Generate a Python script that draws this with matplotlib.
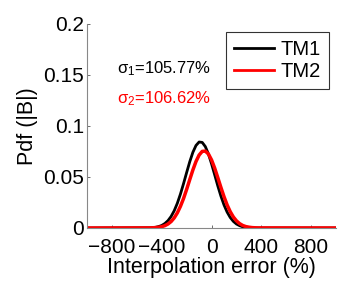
import numpy as np
import matplotlib
matplotlib.use('Agg')
import matplotlib.pyplot as plt

plt.rcParams['font.family'] = ['Liberation Sans', 'DejaVu Sans']
plt.rcParams['mathtext.fontset'] = 'custom'
plt.rcParams['mathtext.rm'] = 'Liberation Sans'
plt.rcParams['mathtext.it'] = 'Liberation Sans'

# x grid (interpolation error, %)
err = [-1000, -500, -475, -450, -425, -400, -375, -350, -325, -300, -275, -250,
       -225, -200, -175, -150, -125, -100, -75, -50, -25, 0, 25, 50, 75, 100,
       125, 150, 175, 200, 225, 250, 275, 300, 325, 350, 375, 1000]

pdf_tm1 = [0, 0.0002, 0.0004, 0.0007, 0.0014, 0.0025, 0.0044, 0.0072, 0.0113,
           0.0169, 0.0242, 0.0332, 0.0435, 0.0544, 0.0650, 0.0742, 0.0809,
           0.0843, 0.0839, 0.0798, 0.0725, 0.0629, 0.0522, 0.0413, 0.0313,
           0.0226, 0.0156, 0.0103, 0.0065, 0.0039, 0.0023, 0.0012, 0.0007,
           0.0003, 0.0001, 0, 0, 0]

pdf_tm2 = [0, 0.0001, 0.0002, 0.0004, 0.0007, 0.0013, 0.0023, 0.0039, 0.0063,
           0.0099, 0.0148, 0.0212, 0.0289, 0.0379, 0.0475, 0.0569, 0.0652,
           0.0715, 0.0751, 0.0754, 0.0725, 0.0667, 0.0587, 0.0494, 0.0398,
           0.0307, 0.0226, 0.0160, 0.0108, 0.0070, 0.0043, 0.0025, 0.0014,
           0.0008, 0.0004, 0.0002, 0.0001, 0]

sigma_labels = ['σ$_1$=105.77%', 'σ$_2$=106.62%']
xticks = [-800, -400, 0, 400, 800]
yticks = [0, 0.05, 0.1, 0.15, 0.2]
ytick_labels = ['0', '0.05', '0.1', '0.15', '0.2']

fig = plt.figure(figsize=(3.44, 2.82), dpi=100)
ax = fig.add_axes([0.253, 0.1915, 0.724, 0.7235])

ax.plot(err, pdf_tm1, color='black', lw=2.0, label='TM1')
ax.plot(err, pdf_tm2, color='red', lw=2.5, label='TM2')

ax.set_xlim(-1000, 1000)
ax.set_ylim(0, 0.2)
ax.set_xticks(xticks)
ax.set_yticks(yticks)
ax.set_yticklabels(ytick_labels)
ax.tick_params(direction='in', length=2.5, width=0.6, color='#555555',
               labelsize=15)
ax.tick_params(axis='y', pad=2)
ax.tick_params(axis='x', pad=7)

for side in ['top', 'right']:
    ax.spines[side].set_visible(False)
for side in ['left', 'bottom']:
    ax.spines[side].set_color('#888888')
    ax.spines[side].set_linewidth(0.8)

ax.set_xlabel('Interpolation error (%)', fontsize=15.5, labelpad=0)
ax.set_ylabel('Pdf (|B|)', fontsize=15.5, labelpad=4)

ax.text(-760, 0.156, sigma_labels[0], color='black', fontsize=12, va='center')
ax.text(-760, 0.1265, sigma_labels[1], color='red', fontsize=12, va='center')

leg = ax.legend(loc='upper left', bbox_to_anchor=(0.657, 0.888),
                bbox_transform=fig.transFigure, fontsize=14.5, frameon=True,
                fancybox=False, handlelength=2.0, handletextpad=0.3,
                borderpad=0.4, labelspacing=0.15, borderaxespad=0)
leg.get_frame().set_edgecolor('black')
leg.get_frame().set_linewidth(0.8)
for line in leg.get_lines():
    line.set_linewidth(2.0)

fig.savefig('out.png', dpi=100)
